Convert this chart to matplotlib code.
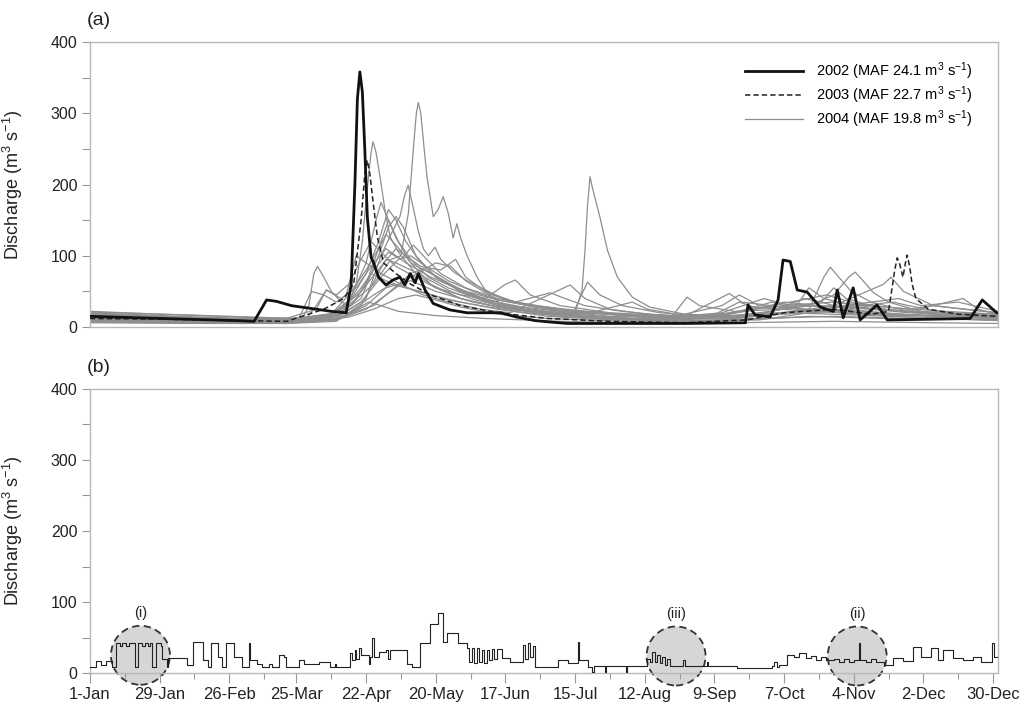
import numpy as np
import matplotlib
matplotlib.use('Agg')
import matplotlib.pyplot as plt
from matplotlib.patches import Ellipse

plt.rcParams['font.family'] = ['Liberation Sans', 'DejaVu Sans']
plt.rcParams['mathtext.fontset'] = 'custom'
plt.rcParams['mathtext.rm'] = 'Liberation Sans'
plt.rcParams['mathtext.it'] = 'Liberation Sans:italic'

# ── Tick labels (day of year, 1 = 1-Jan) ──
tick_days = [1, 29, 57, 84, 112, 140, 168, 196, 224, 252, 280, 308, 336, 364]
tick_labels = ['1-Jan', '29-Jan', '26-Feb', '25-Mar', '22-Apr', '20-May', '17-Jun',
               '15-Jul', '12-Aug', '9-Sep', '7-Oct', '4-Nov', '2-Dec', '30-Dec']

# ── (a) daily discharge, highlighted years ──
q2002_day = [1, 20, 40, 60, 67, 69, 72, 76, 82, 90, 98, 104, 106, 107.5, 108.5, 109.5, 110.5,
             111.5, 112.5, 114, 115, 117, 120, 122.8, 125.6, 127.6, 129.7, 131.7, 133,
             135.7, 139, 145.7, 152.6, 160, 166, 172.5, 180, 186, 193, 220, 240, 264.5,
             265.5, 268.4, 274.4, 277.6, 279.6, 282.5, 285.3, 289.3, 294.5, 299.8, 301.4,
             303.8, 307.8, 310.6, 317.4, 321.5, 340, 354.8, 359.7, 365.5]
q2002_val = [15, 13, 11, 9, 8, 20, 38, 36, 30, 26, 22, 20, 60, 200, 320, 358, 330,
             248, 154, 98, 90, 70, 59, 66, 70, 59, 75, 62, 75,
             52, 33, 24, 20, 20, 20, 14, 9, 7, 5, 5, 5, 6,
             31, 17, 14, 38, 94, 92, 52, 49, 28, 22, 52,
             13, 55, 10, 31, 10, 11, 12, 38, 20]

q2003_day = [1, 30, 60, 80, 95, 103, 107, 110, 111.5, 112.5, 113.5, 115, 116.5, 119, 124,
             130, 138, 150, 165, 185, 210, 240, 265, 280, 300, 315, 322, 324.5, 325.5,
             326.5, 327.8, 328.8, 329.5, 330.5, 331.5, 333, 338, 350, 366]
q2003_val = [12, 11, 9, 8, 25, 40, 60, 150, 215, 234, 215, 170, 127, 90, 75,
             60, 45, 30, 20, 12, 8, 6, 10, 20, 25, 18, 22, 80, 97,
             88, 70, 90, 101, 85, 60, 40, 25, 18, 15]

q2004_day = [1, 30, 60, 85, 95, 105, 115, 122, 126, 129, 131, 132.2, 133, 134, 135.2,
             136.5, 139, 141, 143, 145, 147, 148.5, 150, 152.6, 156.6, 160.6, 166, 175,
             185, 200, 230, 260, 280, 300, 320, 340, 366]
q2004_val = [18, 14, 10, 9, 15, 30, 60, 95, 100, 160, 250, 300, 315, 300, 255,
             210, 155, 165, 183, 160, 125, 145, 125, 100, 70, 48, 33, 25,
             20, 15, 10, 12, 20, 25, 20, 15, 12]

# ── (a) remaining years of record ──
g01_day = [1, 30, 60, 80, 95, 104, 108, 110.5, 112.4, 114, 114.8, 116, 117.6, 119.6,
           121.6, 125, 128, 132, 140, 150, 165, 180, 200, 230, 250, 262, 268, 290, 320, 366]
g01_val = [20, 16, 12, 10, 14, 25, 60, 120, 192, 245, 260, 245, 211, 164,
           127, 105, 92, 75, 55, 40, 28, 20, 14, 10, 14, 35, 28, 22, 18, 14]

g02_day = [1, 40, 80, 100, 112, 118, 122, 125.6, 127.5, 128.9, 130.9, 132.9, 135, 137,
           139.7, 142, 147, 152, 160, 167, 177, 190, 210, 240, 270, 300, 330, 366]
g02_val = [10, 8, 7, 12, 40, 100, 130, 155, 185, 199, 168, 136, 110, 100,
           112, 95, 78, 66, 52, 40, 30, 22, 15, 12, 15, 30, 20, 15]

g03_day = [1, 40, 80, 100, 112, 120, 130, 140, 155, 170, 185, 196, 198.8, 200, 201, 202,
           203, 206, 209, 213, 219, 226, 240, 260, 280, 300, 330, 366]
g03_val = [8, 7, 6, 10, 30, 55, 65, 50, 35, 25, 20, 20, 52, 108, 170, 211,
           195, 154, 108, 70, 42, 28, 18, 15, 20, 18, 14, 10]

g04_day = [1, 30, 60, 86, 89, 91, 92.5, 95, 98, 102, 106, 112, 118, 121, 124, 130, 138,
           150, 165, 185, 210, 240, 260, 275, 285, 310, 340, 366]
g04_val = [15, 12, 9, 9, 30, 75, 85, 70, 50, 35, 30, 60, 120, 150, 125, 90, 60,
           40, 28, 20, 12, 10, 20, 35, 25, 18, 15, 12]

g05_day = [1, 40, 80, 95, 105, 112, 116, 118, 121, 125, 130, 137, 145, 155, 165, 180,
           200, 230, 255, 262, 270, 290, 296, 298.6, 302, 307, 315, 330, 366]
g05_val = [12, 9, 8, 12, 35, 90, 150, 175, 150, 120, 95, 70, 55, 42, 30, 20,
           14, 10, 30, 45, 30, 25, 70, 84, 70, 50, 35, 22, 16]

g06_day = [1, 40, 80, 100, 110, 117, 121, 124, 127, 132, 140, 150, 162, 175, 195, 220,
           250, 270, 290, 300, 306, 308.6, 311, 316, 322, 335, 366]
g06_val = [14, 11, 9, 16, 40, 100, 140, 155, 140, 100, 70, 50, 35, 25, 18, 12,
           12, 20, 30, 45, 70, 77, 68, 48, 35, 22, 15]

g07_day = [1, 30, 60, 80, 92, 96, 100, 105, 110, 114, 118, 124, 132, 140, 150, 160, 168,
           172, 178, 190, 210, 240, 258, 263, 280, 300, 320, 323, 328, 340, 366]
g07_val = [22, 18, 14, 12, 25, 52, 45, 60, 95, 120, 105, 85, 70, 55, 45, 40, 60,
           66, 45, 30, 20, 15, 47, 35, 28, 30, 60, 70, 50, 30, 20]

g08_day = [1, 40, 80, 100, 108, 113, 118, 125, 140, 160, 190, 220, 260, 300, 340, 366]
g08_val = [6, 5, 5, 10, 25, 35, 30, 22, 16, 12, 8, 6, 6, 8, 6, 5]

g09_day = [1, 50, 90, 105, 115, 125, 132, 140, 150, 165, 185, 215, 250, 275, 290, 320, 366]
g09_val = [9, 7, 7, 14, 25, 40, 45, 38, 28, 18, 12, 8, 8, 12, 15, 12, 10]

g10_day = [1, 40, 80, 100, 110, 118, 124, 128, 134, 142, 148, 152, 160, 172, 186, 192,
           200, 215, 235, 241, 246, 260, 280, 295, 300, 305, 320, 340, 366]
g10_val = [16, 12, 10, 20, 50, 85, 110, 100, 85, 80, 95, 70, 50, 35, 48, 40,
           30, 22, 15, 42, 30, 22, 25, 35, 55, 40, 25, 18, 14]

g11_day = [1, 40, 80, 98, 105, 112, 117, 120, 124, 130, 138, 146, 155, 165, 180, 195,
           201, 206, 215, 230, 250, 270, 285, 290, 296, 310, 330, 352, 358, 366]
g11_val = [11, 9, 8, 18, 45, 80, 110, 130, 115, 90, 75, 60, 45, 32, 22, 18,
           63, 45, 30, 20, 15, 18, 30, 55, 40, 28, 22, 40, 25, 18]

g12_day = [1, 30, 60, 85, 90, 95, 100, 104, 108, 112, 118, 126, 135, 145, 158, 170,
           194, 200, 210, 225, 250, 270, 285, 310, 324, 330, 345, 366]
g12_val = [19, 15, 12, 12, 50, 45, 35, 45, 100, 90, 75, 60, 45, 35, 25, 20,
           59, 40, 25, 18, 14, 18, 22, 30, 35, 30, 20, 16]

g13_day = [1, 40, 80, 100, 115, 125, 130, 135, 140, 148, 158, 170, 185, 200, 219, 225,
           240, 260, 280, 300, 315, 320, 340, 366]
g13_val = [13, 10, 9, 12, 30, 60, 75, 82, 72, 55, 42, 30, 22, 18, 35, 25,
           16, 14, 18, 22, 30, 25, 18, 13]

g14_day = [1, 40, 80, 100, 110, 116, 120, 124, 130, 138, 146, 156, 168, 185, 210, 240,
           258, 275, 288, 295, 310, 330, 366]
g14_val = [7, 6, 5, 8, 30, 70, 95, 90, 80, 65, 50, 38, 28, 18, 12, 8,
           10, 22, 40, 35, 20, 14, 9]

g15_day = [1, 40, 80, 98, 106, 112, 117, 121, 124, 128, 133, 140, 150, 160, 175, 190,
           210, 230, 255, 275, 290, 297, 310, 330, 340, 352, 366]
g15_val = [17, 13, 11, 18, 40, 75, 120, 165, 150, 120, 95, 70, 50, 38, 28, 22,
           18, 14, 18, 30, 40, 45, 32, 25, 30, 25, 20]

g16_day = [1, 40, 80, 105, 115, 122, 128, 136, 145, 158, 172, 190, 215, 245, 270, 300,
           330, 366]
g16_val = [10, 8, 7, 20, 45, 60, 55, 48, 38, 30, 22, 15, 10, 9, 12, 15, 12, 10]

g17_day = [1, 40, 75, 88, 92, 96, 102, 108, 114, 120, 128, 138, 150, 165, 185, 210, 240,
           265, 280, 300, 320, 345, 366]
g17_val = [21, 17, 13, 12, 30, 52, 40, 55, 85, 110, 90, 70, 52, 38, 26, 18, 14,
           22, 35, 28, 24, 20, 18]

g18_day = [1, 40, 80, 100, 110, 118, 125, 130, 136, 145, 155, 165, 180, 200, 225, 250,
           268, 280, 300, 320, 345, 366]
g18_val = [14, 11, 9, 14, 35, 70, 95, 100, 85, 65, 50, 38, 28, 20, 14, 12,
           25, 30, 35, 28, 22, 18]

g19_day = [1, 40, 80, 96, 104, 110, 114, 120, 128, 138, 150, 165, 185, 210, 240, 270,
           290, 305, 325, 366]
g19_val = [8, 7, 6, 10, 30, 55, 75, 65, 55, 45, 35, 25, 15, 10, 8, 10,
           20, 25, 18, 12]

g20_day = [1, 40, 80, 100, 108, 115, 121, 126, 131, 135, 142, 152, 165, 180, 195, 215,
           235, 255, 272, 280, 300, 326, 335, 350, 366]
g20_val = [16, 13, 10, 15, 40, 80, 105, 95, 115, 100, 75, 55, 40, 30, 24, 18,
           14, 20, 40, 32, 28, 40, 30, 35, 22]

g21_day = [1, 40, 80, 100, 112, 120, 130, 140, 146, 152, 160, 172, 190, 215, 245, 270,
           290, 310, 340, 366]
g21_val = [12, 10, 8, 10, 25, 45, 70, 90, 85, 65, 48, 35, 25, 16, 12, 15,
           25, 20, 16, 12]

# ── (b) regulated discharge (step record) ──
b_day = [1, 3.4, 5.4, 7.4, 10, 11.5, 13, 13.7, 15.5, 16.5, 19, 20.3, 22, 23, 24.5, 25, 26,
         27.5, 29.5, 30, 32, 32.5, 40, 42.5, 46.5, 48.5, 49.7, 52.5, 54, 55.7, 59, 62, 65,
         65.5, 68, 70, 73, 74, 77, 79, 80, 85, 87, 93, 97.5, 99.5, 100, 105.5, 106.5,
         107.5, 108, 109, 110, 113, 113.5, 114.5, 115, 117, 120, 121, 121.5, 128.5, 130.5,
         133.7, 137.7, 141, 143, 144.6, 149, 152.5, 153.5, 154.5, 155.5, 156.5, 157.5,
         158.5, 159.5, 160.5, 161.5, 162.5, 163.5, 164.5, 166.5, 170, 175, 176, 177, 178,
         179, 180, 189, 193, 197, 197.7, 201, 203, 203.5, 208, 208.5, 216.5, 217, 225, 226,
         227, 228, 229, 230, 231, 232, 233, 234, 239.5, 240.2, 249, 249.5, 261, 275, 276,
         277, 278, 281, 284, 286, 289, 291, 293, 295, 297, 300, 302, 304, 306, 308, 310,
         310.5, 313, 315, 317, 320, 324, 328, 332, 335, 339, 342, 344, 348, 352, 356, 359,
         363.7, 364.2, 366]
b_val = [9, 17, 11, 17, 9, 42, 38, 42, 38, 42, 9, 42, 38, 42, 38, 42, 9,
         42, 38, 20, 9, 21, 11, 43, 18, 9, 42, 23, 9, 42, 23, 9, 42,
         18, 13, 9, 13, 9, 26, 22, 9, 18, 13, 15, 9, 13, 8, 28, 18,
         32, 20, 35, 25, 13, 23, 49, 23, 30, 32, 20, 32, 13, 8,
         42, 69, 84, 43, 56, 42, 35, 15, 35, 14, 35, 15,
         33, 14, 32, 18, 34, 20, 34, 21, 16, 40, 20, 42, 22,
         38, 9, 18, 14, 44, 18, 9, 1, 10, 1, 10, 1, 10, 20, 15,
         30, 16, 25, 14, 22, 12, 20, 10, 18, 10, 16, 10, 7, 10, 16,
         9, 11, 25, 23, 28, 21, 24, 19, 22, 18, 20, 15, 20, 16, 19, 42,
         18, 15, 20, 16, 11, 21, 17, 37, 23, 35, 18, 32, 21, 18, 22, 16,
         42, 23, 23]

# circled periods: label, centre day, centre discharge
circ_labels = ['(i)', '(iii)', '(ii)']
circ_day = [21.3, 236.6, 309.4]
circ_q = [25, 24, 24]

grey_series = [(g01_day, g01_val), (g02_day, g02_val), (g03_day, g03_val),
               (g04_day, g04_val), (g05_day, g05_val), (g06_day, g06_val),
               (g07_day, g07_val), (g08_day, g08_val), (g09_day, g09_val),
               (g10_day, g10_val), (g11_day, g11_val), (g12_day, g12_val),
               (g13_day, g13_val), (g14_day, g14_val), (g15_day, g15_val),
               (g16_day, g16_val), (g17_day, g17_val), (g18_day, g18_val),
               (g19_day, g19_val), (g20_day, g20_val), (g21_day, g21_val)]

GREY = '#8e8e8e'
SPINE = '#b8b8b8'

fig = plt.figure(figsize=(10.28, 7.08), dpi=100)
ax1 = fig.add_axes([0.0875, 0.5381, 0.8833, 0.4026])
ax2 = fig.add_axes([0.0875, 0.0494, 0.8833, 0.4012])

ylab = r'Discharge (m$^{3}$ s$^{-1}$)'
for ax in (ax1, ax2):
    ax.set_xlim(1, 366)
    ax.set_ylim(0, 400)
    ax.set_yticks([0, 100, 200, 300, 400])
    ax.set_yticks([50, 150, 250, 350], minor=True)
    for spine in ax.spines.values():
        spine.set_color(SPINE)
        spine.set_linewidth(1.0)
    ax.tick_params(axis='y', which='both', direction='out', length=6, width=0.8,
                   color='#999999', labelsize=11.5, labelcolor='#222222', pad=3)
    ax.set_ylabel(ylab, fontsize=13, color='#222222')
    ax.yaxis.set_label_coords(-0.072, 0.5)

# ── Panel (a) ──
for d, q in grey_series:
    ax1.plot(d, q, color=GREY, lw=0.9, zorder=2)
ax1.plot(q2004_day, q2004_val, color=GREY, lw=0.9, zorder=2,
         label=r'2004 (MAF 19.8 m$^{3}$ s$^{-1}$)')
ax1.plot(q2003_day, q2003_val, color='#222222', lw=1.1, ls=(0, (3.5, 2)), zorder=3,
         label=r'2003 (MAF 22.7 m$^{3}$ s$^{-1}$)')
ax1.plot(q2002_day, q2002_val, color='#111111', lw=2.0, zorder=4,
         label=r'2002 (MAF 24.1 m$^{3}$ s$^{-1}$)')
ax1.set_xticks([])
h, l = ax1.get_legend_handles_labels()
ax1.legend(h[::-1], l[::-1], loc='upper right', bbox_to_anchor=(0.972, 0.935),
           frameon=False, fontsize=10.5, handlelength=4.0, handletextpad=0.85,
           labelspacing=0.15, borderpad=0, borderaxespad=0)
ax1.text(-0.003, 1.077, '(a)', transform=ax1.transAxes, fontsize=14,
         ha='left', va='center', color='#222222')

# ── Panel (b) ──
ax2.step(b_day, b_val, where='post', color='#222222', lw=0.8, zorder=3)
ax2.set_xticks(tick_days)
ax2.set_xticklabels(tick_labels)
ax2.set_xticks([d + 14 for d in tick_days[:-1]], minor=True)
ax2.tick_params(axis='x', which='major', direction='out', length=7, width=0.8,
                color='#999999', labelsize=12, labelcolor='#222222', pad=3)
ax2.tick_params(axis='x', which='minor', direction='out', length=4.5, width=0.8,
                color='#999999')

# circle size fixed in pixels, converted to data units
px_per_day = 0.8833 * 1028 / 365.0
px_per_q = 0.4012 * 708 / 400.0
diam_px = 59
for lab, cd, cq in zip(circ_labels, circ_day, circ_q):
    e = Ellipse((cd, cq), diam_px / px_per_day, diam_px / px_per_q,
                facecolor='#d6d6d6', edgecolor='#333333', lw=1.3,
                ls=(0, (4, 2.5)), zorder=1, clip_on=False)
    ax2.add_patch(e)
    ax2.text(cd, cq + 59, lab, ha='center', va='center', fontsize=10.5,
             color='#222222')

ax2.text(-0.003, 1.074, '(b)', transform=ax2.transAxes, fontsize=14,
         ha='left', va='center', color='#222222')

fig.savefig('out.png', dpi=100, facecolor='white')
